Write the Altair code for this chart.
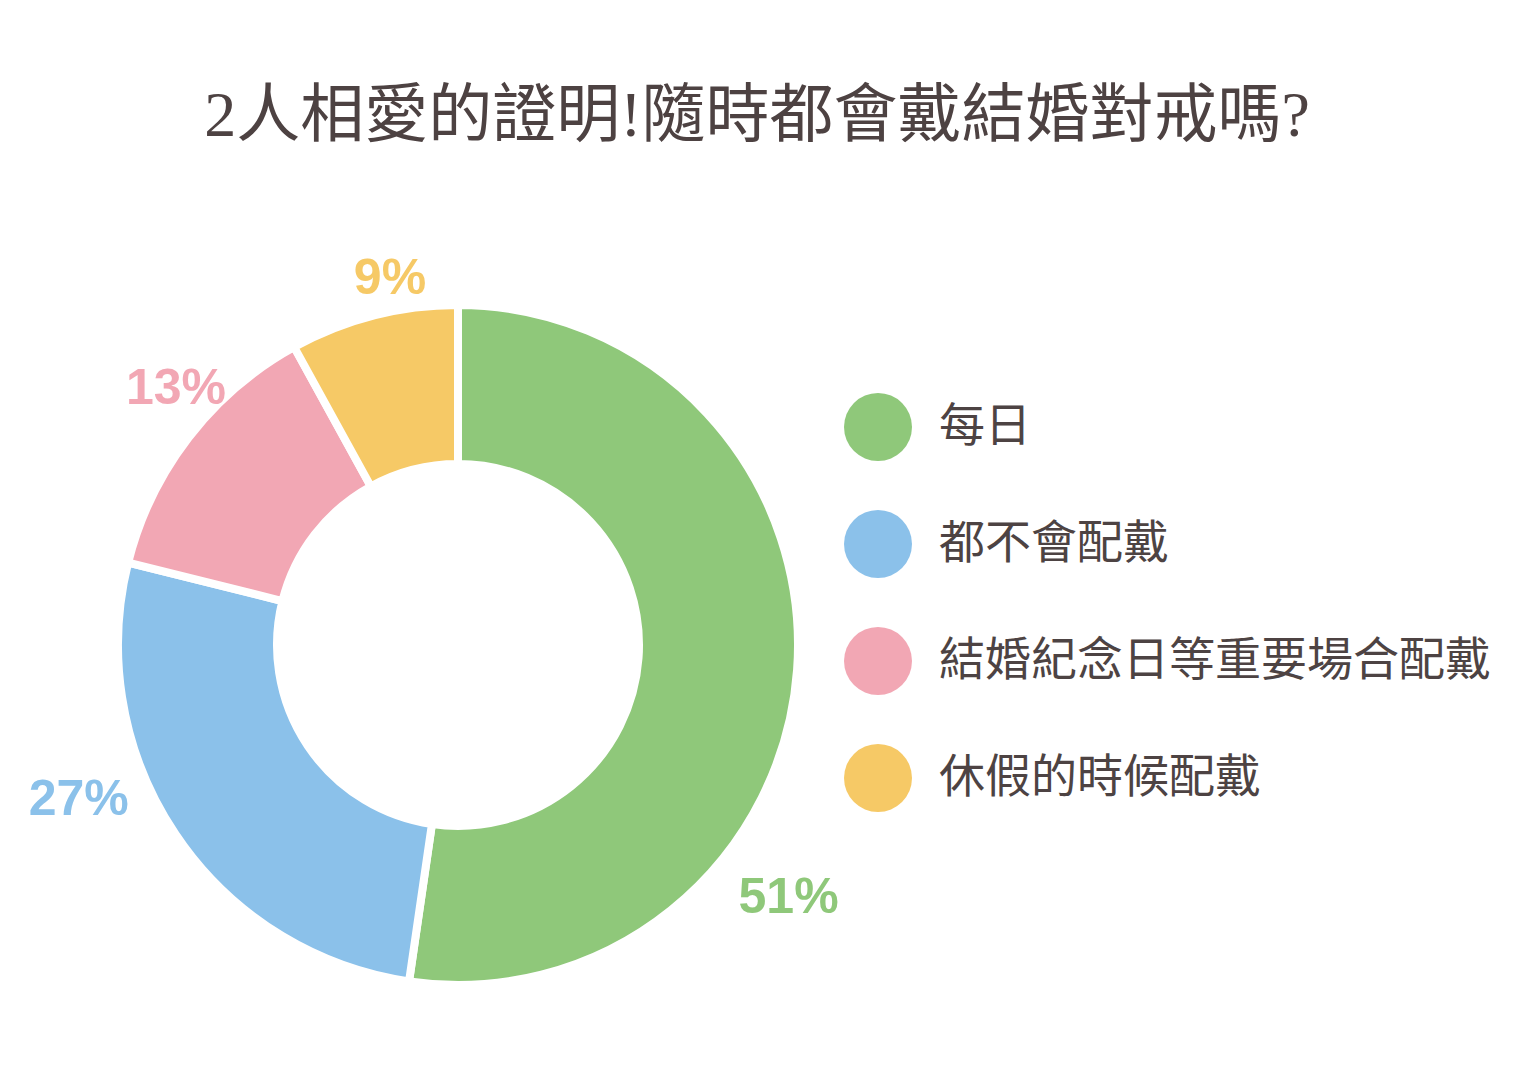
import math
import altair as alt
import pandas as pd

categories = ["每日", "都不會配戴", "結婚紀念日等重要場合配戴", "休假的時候配戴"]
# slice sizes as drawn in the picture (percent of the ring)
values = [52.3, 26.6, 13.1, 8.0]
labels = ["51%", "27%", "13%", "9%"]
colors = ["#8fc87a", "#8bc1ea", "#f2a7b4", "#f6c966"]
title_text = "2人相愛的證明!隨時都會戴結婚對戒嗎?"

df = pd.DataFrame({
    "category": categories,
    "value": values,
    "label": labels,
    "idx": list(range(len(categories))),
})

theta_scale = alt.Scale(domain=[0, 100], range=[0, 2 * math.pi])
color_scale = alt.Scale(domain=categories, range=colors)
legend = alt.Legend(
    title=None,
    orient="none",
    legendX=722,
    legendY=84,
    symbolType="circle",
    symbolSize=4624,
    symbolStrokeWidth=0,
    symbolOpacity=1,
    labelFontSize=46,
    labelFont="Noto Sans CJK TC",
    labelColor="#4d4343",
    labelOffset=27,
    rowPadding=49,
    padding=0,
    labelLimit=1000,
)

base = alt.Chart(df).transform_window(
    cum="sum(value)", sort=[alt.SortField("idx")], frame=[None, 0]
).transform_calculate(
    start="datum.cum - datum.value",
    label_pos="datum.cum - datum.value + 0.66 * datum.value",
)

arcs = base.mark_arc(
    outerRadius=340, innerRadius=181, stroke="white", strokeWidth=8
).encode(
    theta=alt.Theta("start:Q", scale=theta_scale),
    theta2="cum:Q",
    color=alt.Color("category:N", scale=color_scale, legend=legend),
    order=alt.Order("idx:Q"),
)

text = base.mark_text(
    radius=400, dy=28, fontSize=50, fontWeight="bold", font="Liberation Sans"
).encode(
    theta=alt.Theta("label_pos:Q", scale=theta_scale),
    text="label:N",
    color=alt.Color("category:N", scale=color_scale, legend=legend),
)

chart = alt.layer(arcs, text).properties(
    width=672,
    height=672,
    title=alt.Title(
        title_text,
        fontSize=64,
        font="Liberation Serif, Noto Sans CJK TC",
        fontWeight="normal",
        color="#4d4242",
        anchor="middle",
        frame="group",
        dx=299,
        offset=105,
    ),
    padding={"left": 114, "top": 301, "right": 717, "bottom": 80},
    autosize=alt.AutoSizeParams(type="none"),
).configure_view(stroke=None)

chart.save("out.html", embed_options={"renderer": "svg", "actions": False})
